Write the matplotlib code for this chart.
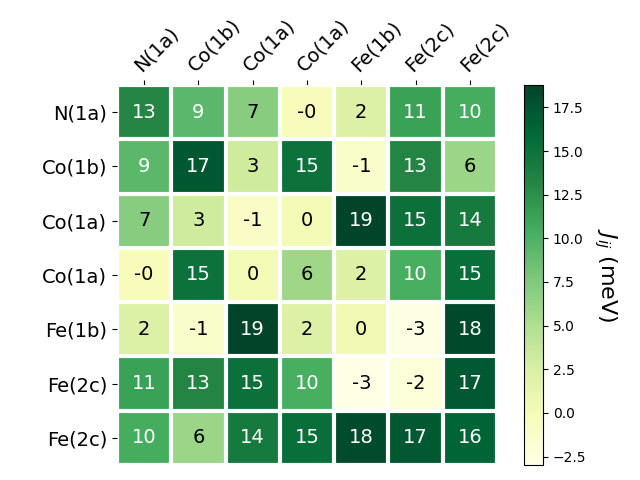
import numpy as np
import matplotlib
matplotlib.use('Agg')
import matplotlib.pyplot as plt

# site labels and exchange values (meV)
sites = ['N(1a)', 'Co(1b)', 'Co(1a)', 'Co(1a)', 'Fe(1b)', 'Fe(2c)', 'Fe(2c)']

J = np.array([
    [13.2, 9.3, 7.1, -0.3, 2.1, 11.2, 10.3],
    [9.3, 17.2, 3.1, 15.1, -1.2, 13.3, 6.1],
    [7.1, 3.1, -1.1, 0.2, 18.78, 15.2, 14.3],
    [-0.3, 15.1, 0.2, 5.9, 2.1, 10.2, 15.3],
    [2.1, -1.2, 18.7, 2.1, 0.3, -2.8, 18.4],
    [11.2, 13.3, 15.2, 10.2, -2.98, -2.2, 17.1],
    [10.3, 6.1, 14.3, 15.3, 18.2, 17.1, 16.2],
])

fig = plt.figure(figsize=(6.4, 4.8), dpi=100)
ax = fig.add_axes([117 / 640, 15 / 480, 380 / 640, 380 / 480])
cax = fig.add_axes([524 / 640, 15 / 480, 19 / 640, 380 / 480])

im = ax.imshow(J, cmap='YlGn')
cbar = fig.colorbar(im, cax=cax)
cbar.ax.set_ylabel('$J_{ij}$ (meV)', rotation=-90, va='bottom', fontsize=16)

n = len(sites)
ax.set_xticks(np.arange(n))
ax.set_yticks(np.arange(n))
ax.set_xticklabels(sites, fontsize=14)
ax.set_yticklabels(sites, fontsize=14)
ax.tick_params(top=True, bottom=False, labeltop=True, labelbottom=False)
plt.setp(ax.get_xticklabels(), rotation=45, ha='left', rotation_mode='anchor')

for s in ax.spines.values():
    s.set_visible(False)
ax.set_xticks(np.arange(n + 1) - .5, minor=True)
ax.set_yticks(np.arange(n + 1) - .5, minor=True)
ax.grid(which='minor', color='w', linestyle='-', linewidth=3)
ax.tick_params(which='minor', bottom=False, left=False, top=False)

thr = im.norm(J.max()) / 2.
for i in range(n):
    for j in range(n):
        c = 'white' if im.norm(J[i, j]) > thr else 'black'
        ax.text(j, i, '{:.0f}'.format(J[i, j]), ha='center', va='center',
                color=c, fontsize=14)

fig.savefig('out.png')
